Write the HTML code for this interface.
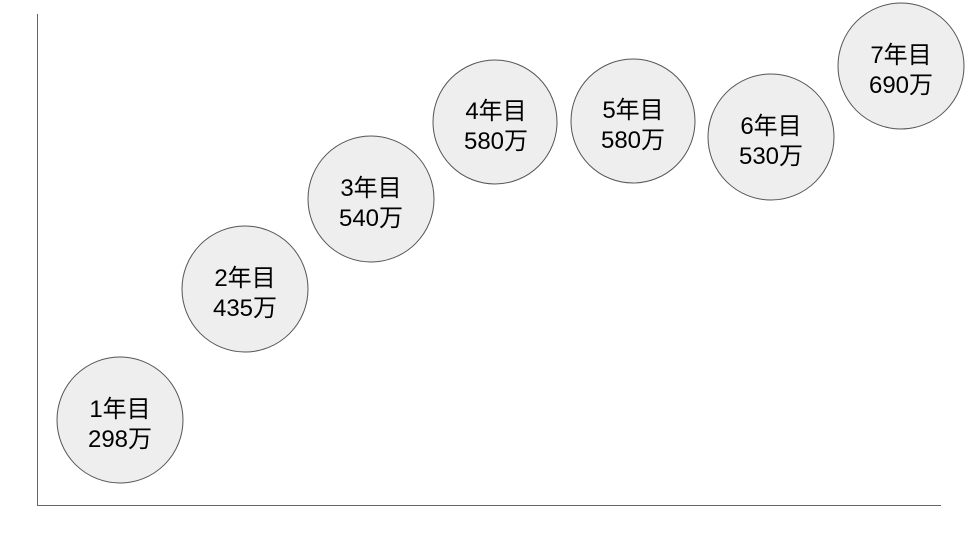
<!DOCTYPE html>
<html><head><meta charset="utf-8"><style>html,body{margin:0;padding:0;background:#fff}svg{display:block}</style></head>
<body>
<svg width="970" height="546" viewBox="0 0 970 546" xmlns="http://www.w3.org/2000/svg">
<line x1="37.5" y1="14" x2="37.5" y2="505" stroke="#666" stroke-width="1"/>
<line x1="37" y1="505.5" x2="941" y2="505.5" stroke="#666" stroke-width="1"/>
<g fill="#eeeeee" stroke="#555" stroke-width="1">
<circle cx="120" cy="420" r="63"/>
<circle cx="245" cy="289" r="63"/>
<circle cx="371" cy="199" r="63"/>
<circle cx="495" cy="122" r="62"/>
<circle cx="633" cy="121" r="62"/>
<circle cx="771" cy="137" r="63"/>
<circle cx="901" cy="66" r="63"/>
</g>
<g font-family="'Liberation Sans','Noto Sans CJK JP',sans-serif" font-size="24" fill="#000" text-anchor="middle">
<text x="120" y="417">1年目</text><text x="120" y="447">298万</text>
<text x="245" y="286">2年目</text><text x="245" y="316">435万</text>
<text x="371" y="196">3年目</text><text x="371" y="226">540万</text>
<text x="496" y="119">4年目</text><text x="496" y="149">580万</text>
<text x="633" y="118">5年目</text><text x="633" y="148">580万</text>
<text x="771" y="134">6年目</text><text x="771" y="164">530万</text>
<text x="901" y="63">7年目</text><text x="901" y="93">690万</text>
</g>
</svg>
</body></html>
